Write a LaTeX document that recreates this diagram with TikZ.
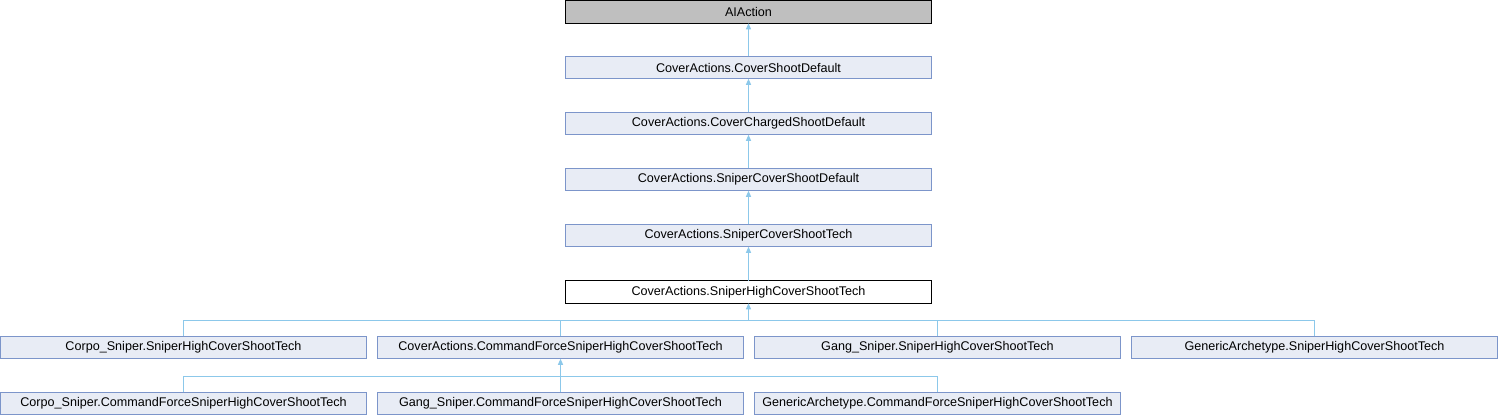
\documentclass[tikz,border=0pt]{standalone}
\usepackage{fontspec}
\setmainfont{Liberation Sans}
\usetikzlibrary{arrows.meta}
\definecolor{boxfill}{RGB}{232,236,245}
\definecolor{boxdraw}{RGB}{124,149,202}
\definecolor{edgecol}{RGB}{140,200,234}
\definecolor{grayfill}{RGB}{191,191,191}
\tikzset{
  cls/.style={draw=boxdraw, fill=boxfill, line width=1pt, minimum width=366pt, minimum height=22.5pt, inner sep=0pt, outer sep=0pt, font=\fontsize{12.6}{14}\selectfont},
  hilite/.style={cls, draw=black, fill=white},
  basecls/.style={cls, draw=black, fill=grayfill},
  link/.style={draw=edgecol, line width=1pt},
  inh/.style={link, -{Triangle[length=6pt,width=5pt]}},
}
\begin{document}
\begin{tikzpicture}[x=1pt,y=-1pt]
\useasboundingbox (0,0) rectangle (1498,416);
\node[basecls] (ai) at (748.5,12) {AIAction};
\node[cls] (csd) at (748.5,67.5) {CoverActions.CoverShootDefault};
\node[cls] (ccsd) at (748.5,123.5) {CoverActions.CoverChargedShootDefault};
\node[cls] (scsd) at (748.5,179.5) {CoverActions.SniperCoverShootDefault};
\node[cls] (scst) at (748.5,235.5) {CoverActions.SniperCoverShootTech};
\node[hilite] (shcst) at (748.5,292) {CoverActions.SniperHighCoverShootTech};
\node[cls] (cs) at (183.5,347.5) {Corpo\_Sniper.SniperHighCoverShootTech};
\node[cls] (cf) at (560.5,347.5) {CoverActions.CommandForceSniperHighCoverShootTech};
\node[cls] (gs) at (937.5,347.5) {Gang\_Sniper.SniperHighCoverShootTech};
\node[cls] (ga) at (1314.5,347.5) {GenericArchetype.SniperHighCoverShootTech};
\node[cls] (cscf) at (183.5,403.5) {Corpo\_Sniper.CommandForceSniperHighCoverShootTech};
\node[cls] (gscf) at (560.5,403.5) {Gang\_Sniper.CommandForceSniperHighCoverShootTech};
\node[cls] (gacf) at (937.5,403.5) {GenericArchetype.CommandForceSniperHighCoverShootTech};
\draw[inh] (csd) -- (ai);
\draw[inh] (ccsd) -- (csd);
\draw[inh] (scsd) -- (ccsd);
\draw[inh] (scst) -- (scsd);
\draw[inh] (shcst) -- (scst);
\coordinate (j7) at (748.5,320.5);
\coordinate (j8) at (560.5,376.5);
\draw[link] (cs.north) |- (j7);
\draw[link] (cf.north) |- (j7);
\draw[link] (gs.north) |- (j7);
\draw[link] (ga.north) |- (j7);
\draw[inh] (j7) -- (shcst.south);
\draw[link] (cscf.north) |- (j8);
\draw[link] (gscf.north) |- (j8);
\draw[link] (gacf.north) |- (j8);
\draw[inh] (j8) -- (cf.south);
\end{tikzpicture}
\end{document}
